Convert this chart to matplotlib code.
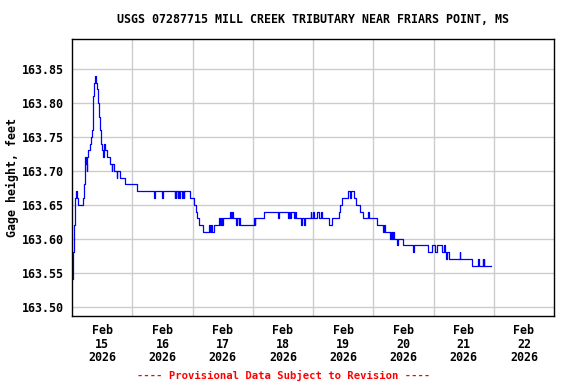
import matplotlib
matplotlib.use("Agg")
import matplotlib.pyplot as plt
import matplotlib.dates as mdates
from matplotlib.ticker import FixedLocator
from datetime import datetime, timedelta

# gage height readings (hours after Feb 15 2026 00:00, feet)
hours = [0.15, 0.3, 0.5, 0.7, 1.1, 1.5, 2.0, 2.4, 4.4, 4.8, 5.1, 5.2, 5.5, 5.9,
         6.1, 6.5, 7.0, 7.6, 8.0, 8.2, 8.4, 8.8, 9.2, 9.7, 10.0, 10.4, 10.8,
         11.3, 11.7, 12.1, 12.4, 12.6, 12.8, 13.0, 14.0, 15.3, 15.8, 16.1,
         16.6, 17.9, 18.1, 19.0, 21.3, 26.0, 32.8, 33.1, 36.0, 36.2, 40.9,
         41.1, 41.4, 41.6, 42.2, 42.4, 42.7, 42.9, 44.0, 44.2, 44.6, 44.8,
         46.9, 48.6, 49.3, 49.8, 50.5, 52.2, 54.6, 55.0, 55.4, 55.7, 56.5,
         58.6, 59.0, 59.5, 59.9, 60.3, 62.8, 63.2, 63.6, 64.0, 65.2, 65.7,
         66.4, 66.7, 67.1, 72.4, 72.7, 73.0, 76.5, 82.0, 82.3, 86.1, 86.6,
         86.9, 87.4, 88.6, 88.9, 89.4, 91.3, 91.6, 92.3, 92.6, 95.0, 95.3,
         96.0, 96.3, 97.6, 98.3, 99.0, 99.5, 102.4, 103.7, 106.4, 106.9,
         107.7, 110.0, 110.8, 111.0, 112.5, 113.3, 114.6, 115.7, 117.8, 118.1,
         121.3, 123.9, 124.3, 124.6, 126.6, 126.9, 127.4, 127.7, 128.2, 129.5,
         130.0, 131.9, 135.9, 136.2, 141.8, 143.2, 144.5, 145.2, 147.2, 148.0,
         148.5, 148.9, 149.4, 150.2, 151.2, 154.5, 154.7, 159.1, 161.8, 162.0,
         163.5, 163.7, 163.9, 164.1, 166.7]
stage = [163.54, 163.56, 163.58, 163.62, 163.66, 163.67, 163.66, 163.65,
         163.66, 163.68, 163.69, 163.72, 163.71, 163.70, 163.72, 163.73,
         163.74, 163.75, 163.76, 163.79, 163.81, 163.83, 163.84, 163.83,
         163.82, 163.80, 163.78, 163.76, 163.74, 163.73, 163.72, 163.73,
         163.74, 163.73, 163.72, 163.71, 163.70, 163.71, 163.70, 163.69,
         163.70, 163.69, 163.68, 163.67, 163.66, 163.67, 163.66, 163.67,
         163.66, 163.67, 163.66, 163.67, 163.66, 163.67, 163.66, 163.67,
         163.66, 163.67, 163.66, 163.67, 163.66, 163.65, 163.64, 163.63,
         163.62, 163.61, 163.62, 163.61, 163.62, 163.61, 163.62, 163.63,
         163.62, 163.63, 163.62, 163.63, 163.64, 163.63, 163.64, 163.63,
         163.62, 163.63, 163.62, 163.63, 163.62, 163.63, 163.62, 163.63,
         163.64, 163.63, 163.64, 163.63, 163.64, 163.63, 163.64, 163.63,
         163.64, 163.63, 163.62, 163.63, 163.62, 163.63, 163.64, 163.63,
         163.64, 163.63, 163.64, 163.63, 163.64, 163.63, 163.62, 163.63,
         163.64, 163.65, 163.66, 163.67, 163.66, 163.67, 163.66, 163.65,
         163.64, 163.63, 163.64, 163.63, 163.62, 163.61, 163.62, 163.61,
         163.60, 163.61, 163.60, 163.61, 163.60, 163.59, 163.60, 163.59,
         163.58, 163.59, 163.58, 163.59, 163.58, 163.59, 163.58, 163.59,
         163.58, 163.57, 163.58, 163.57, 163.57, 163.58, 163.57, 163.56,
         163.57, 163.56, 163.57, 163.56, 163.57, 163.56, 163.56]

start = datetime(2026, 2, 15)
times = [start + timedelta(hours=h) for h in hours]
days = [start + timedelta(days=d) for d in range(9)]
label_days = [d + timedelta(hours=12) for d in days[:8]]
yticks = [163.50, 163.55, 163.60, 163.65, 163.70, 163.75, 163.80, 163.85]

plt.rcParams['font.family'] = 'DejaVu Sans Mono'
plt.rcParams['font.weight'] = 'bold'
plt.rcParams['axes.labelweight'] = 'bold'
plt.rcParams['font.size'] = 8.4

fig = plt.figure(figsize=(5.76, 3.84), dpi=100)
ax = fig.add_axes([0.125, 0.177, 0.837, 0.721])

ax.plot(times, stage, color='#0000ff', lw=0.9, drawstyle='steps-post')

ax.set_xlim(days[0], days[-1])
ax.set_ylim(163.486, 163.894)

ax.xaxis.set_major_locator(FixedLocator(mdates.date2num(label_days)))
ax.xaxis.set_major_formatter(mdates.DateFormatter('%b\n%d\n%Y'))
ax.xaxis.set_minor_locator(FixedLocator(mdates.date2num(days[1:-1])))
ax.set_yticks(yticks)
ax.set_yticklabels(['%.2f' % v for v in yticks])

ax.grid(False)
ax.xaxis.grid(True, which='minor', color='#cccccc', lw=1)
ax.yaxis.grid(True, which='major', color='#cccccc', lw=1)
ax.set_axisbelow(True)
ax.tick_params(which='both', length=0)
ax.tick_params(axis='x', pad=6)
ax.tick_params(axis='y', pad=6)
for lbl in ax.get_xticklabels():
    lbl.set_linespacing(1.04)
for s in ax.spines.values():
    s.set_linewidth(1.0)

ax.set_ylabel('Gage height, feet', labelpad=2)
fig.text(0.543, 0.95, 'USGS 07287715 MILL CREEK TRIBUTARY NEAR FRIARS POINT, MS',
         ha='center', va='center')
fig.text(0.493, 0.023, '---- Provisional Data Subject to Revision ----',
         ha='center', va='center', color='#ff0000', fontsize=7.6)

fig.savefig('out.png', dpi=100)
